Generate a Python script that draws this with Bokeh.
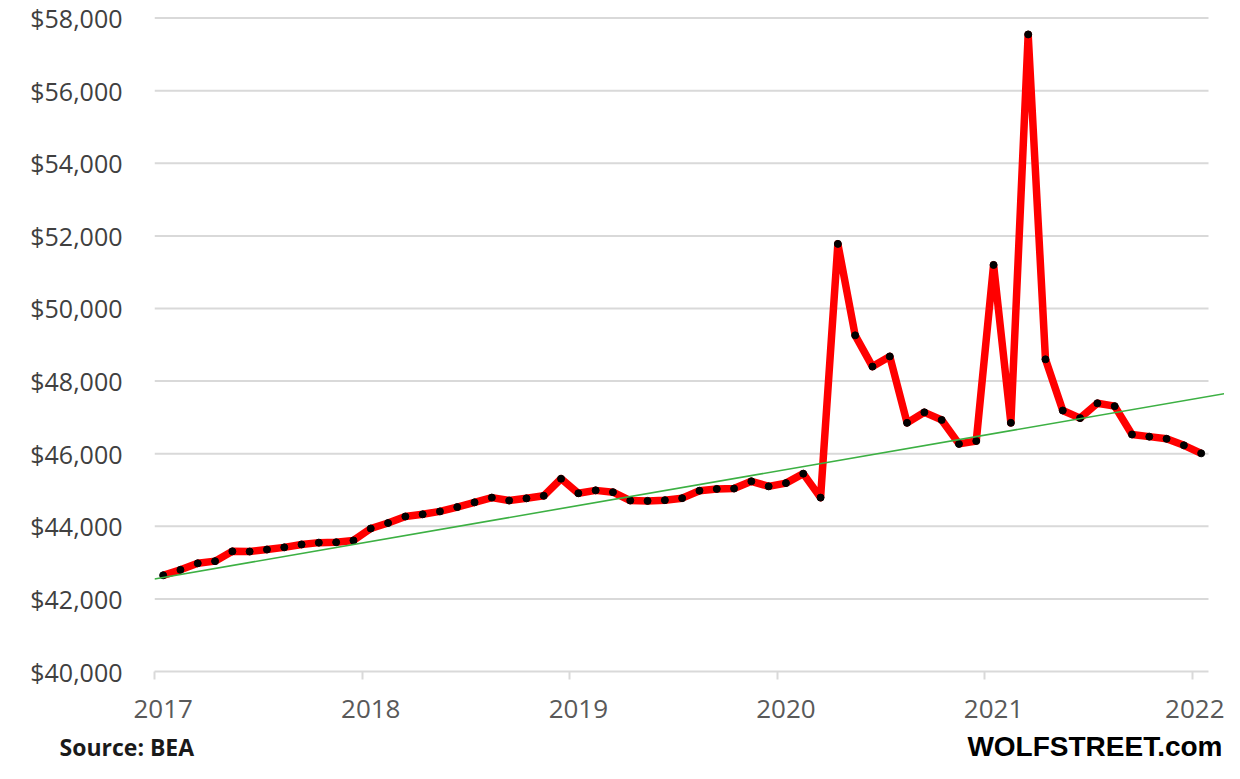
import pandas as pd
from bokeh.plotting import figure
from bokeh.layouts import column
from bokeh.models import (Range1d, LinearAxis, FixedTicker, NumeralTickFormatter,
                          CustomJSTickFormatter, ColumnDataSource)
from bokeh.core.properties import value
from bokeh.embed import file_html
from bokeh.resources import INLINE

# ---- data ----
months = pd.date_range("2017-01-01", periods=61, freq="MS")
income = [
    42650, 42800, 42980, 43040, 43310, 43305, 43360, 43420, 43500, 43550, 43560, 43610,
    43940, 44090, 44270, 44330, 44410, 44530, 44660, 44790, 44710, 44770, 44840, 45310,
    44910, 44990, 44940, 44710, 44700, 44720, 44775, 44980, 45030, 45040, 45240, 45100,
    45190, 45450, 44790, 51780, 49260, 48400, 48680, 46850, 47140, 46930, 46270, 46350,
    51200, 46850, 57550, 48600, 47190, 46980, 47390, 47310, 46530, 46470, 46410, 46230,
    46010,
]
trend_x = [2017.0, 2022.18]
trend_y = [42550, 47680]
year_ticks = [2017, 2018, 2019, 2020, 2021, 2022]
y_ticks = list(range(40000, 58001, 2000))
source_text = "Source: BEA"
brand_text = "WOLFSTREET.com"

# month position = year + mid-month fraction
xs = [d.year + (d.month - 0.5) / 12.0 for d in months]
jan_pos = [x for x, d in zip(xs, months) if d.month == 1]
src = ColumnDataSource(dict(x=xs, y=income))

W = 1224
MAIN_H = 729
FOOT_H = 34
X_LO, X_AXIS_END, X_HI = 2017.0, 2022.077, 2022.154
Y_LO, Y_HI = 40000, 58209

p = figure(width=W, height=MAIN_H, output_backend="svg", toolbar_location=None,
           x_range=Range1d(X_LO, X_HI), y_range=Range1d(Y_LO, Y_HI),
           x_axis_location=None, y_axis_location=None, frame_align=False,
           min_border_left=154, min_border_right=0, min_border_top=10, min_border_bottom=58)
p.outline_line_color = None
p.xgrid.visible = False
p.ygrid.visible = False
p.background_fill_color = "white"
p.border_fill_color = "white"

# y axis (labels only)
yax = LinearAxis(ticker=FixedTicker(ticks=y_ticks),
                 formatter=NumeralTickFormatter(format="$0,0"))
yax.axis_line_color = None
yax.major_tick_line_color = None
yax.minor_tick_line_color = None
yax.major_tick_out = 0
yax.major_tick_in = 0
yax.major_label_standoff = 32
yax.major_label_text_font = "Open Sans"
yax.major_label_text_font_size = "25px"
yax.major_label_text_color = "#404040"
p.add_layout(yax, "left")

# horizontal gridlines bounded like the category axis
grid_y = [t for t in y_ticks if t > Y_LO]
p.segment(x0=[X_LO] * len(grid_y), x1=[X_AXIS_END] * len(grid_y), y0=grid_y, y1=grid_y,
          line_color="#d9d9d9", line_width=2)

# x axis: line + tick marks at year boundaries
xax_a = LinearAxis(ticker=FixedTicker(ticks=year_ticks),
                   formatter=CustomJSTickFormatter(code="return ''"))
xax_a.bounds = (X_LO, X_AXIS_END)
xax_a.axis_line_color = "#d9d9d9"
xax_a.axis_line_width = 2
xax_a.major_tick_line_color = "#d9d9d9"
xax_a.major_tick_line_width = 2
xax_a.major_tick_out = 8
xax_a.major_tick_in = 0
xax_a.minor_tick_line_color = None
xax_a.major_label_standoff = 0
xax_a.major_label_text_font_size = "1px"
p.add_layout(xax_a, "below")

# x axis: year labels centred on January points
xax_b = LinearAxis(ticker=FixedTicker(ticks=jan_pos),
                   formatter=CustomJSTickFormatter(code="return Math.floor(tick).toString()"))
xax_b.axis_line_color = None
xax_b.major_tick_line_color = None
xax_b.minor_tick_line_color = None
xax_b.major_tick_out = 0
xax_b.major_tick_in = 0
xax_b.major_label_standoff = 20
xax_b.major_label_text_font = "Open Sans"
xax_b.major_label_text_font_size = "26px"
xax_b.major_label_text_color = "#595959"
p.add_layout(xax_b, "below")

# data
p.line("x", "y", source=src, line_color="#ff0000", line_width=7.5, line_join="round")
p.scatter("x", "y", source=src, size=7, fill_color="black", line_color="black")
p.line(trend_x, trend_y, line_color="#3cb043", line_width=1.6)

# footer strip (pixel-like coordinates)
f = figure(width=W, height=FOOT_H, output_backend="svg", toolbar_location=None,
           x_range=Range1d(0, W), y_range=Range1d(0, FOOT_H),
           x_axis_location=None, y_axis_location=None, frame_align=False,
           min_border_left=0, min_border_right=0, min_border_top=0, min_border_bottom=0)
f.outline_line_color = None
f.xgrid.visible = False
f.ygrid.visible = False
f.text(x=[59], y=[FOOT_H / 2], text=[source_text], text_font=value("Open Sans"),
       text_font_size="23px", text_font_style="bold", text_color="#1a1a1a",
       text_baseline="middle", text_align="left")
f.text(x=[1222], y=[FOOT_H / 2], text=[brand_text], text_font=value("Liberation Sans"),
       text_font_size="28px", text_font_style="bold", text_color="#000000",
       text_baseline="middle", text_align="right")

layout = column(p, f, spacing=0)
open("out.html", "w").write(file_html(layout, INLINE))
